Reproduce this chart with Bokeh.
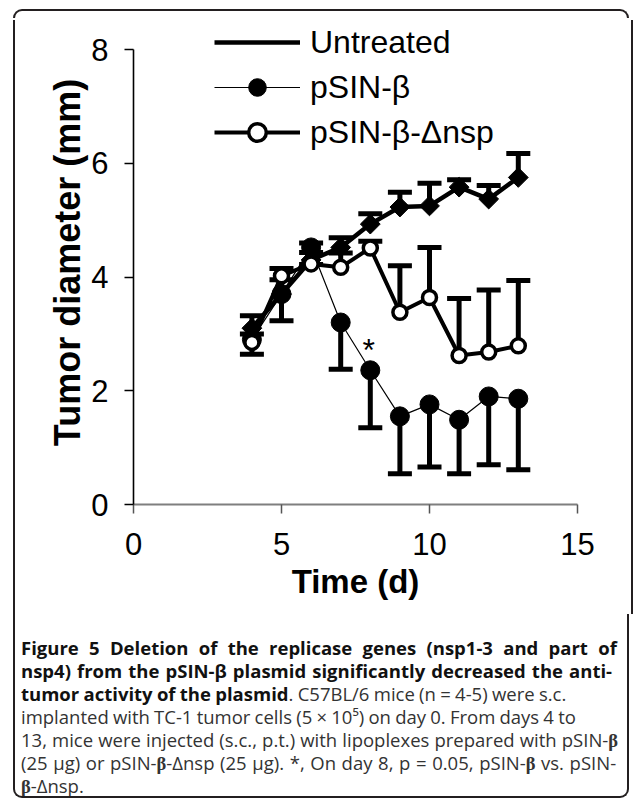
import math
from bokeh.plotting import figure
from bokeh.models import (Range1d, Whisker, TeeHead, ColumnDataSource, Legend,
                          LegendItem, FixedTicker, Div, Label)
from bokeh.layouts import column, row
from bokeh.embed import file_html
from bokeh.resources import INLINE

# ---------------- data ----------------
days = [4, 5, 6, 7, 8, 9, 10, 11, 12, 13]
untreated = [3.10, 3.70, 4.30, 4.52, 4.93, 5.23, 5.25, 5.58, 5.37, 5.75]
untreated_err = [0.22, 0.25, 0.30, 0.17, 0.18, 0.26, 0.40, 0.13, 0.24, 0.42]
psin = [2.90, 3.70, 4.52, 3.20, 2.36, 1.55, 1.76, 1.49, 1.90, 1.86]
psin_err = [0.26, 0.47, 0.30, 0.82, 1.01, 1.01, 1.10, 0.95, 1.20, 1.25]
dnsp = [2.85, 4.02, 4.23, 4.17, 4.51, 3.38, 3.64, 2.62, 2.68, 2.79]
dnsp_err = [0.15, 0.13, 0.20, 0.25, 0.12, 0.82, 0.88, 1.00, 1.09, 1.15]
x_ticks = [0, 5, 10, 15]
y_ticks = [0, 2, 4, 6, 8]
series_names = ["Untreated", "pSIN-\u03b2", "pSIN-\u03b2-\u0394nsp"]

FONT = "Liberation Sans"
BLACK = "#000000"
FRAME_COL = "#231f20"

p = figure(width=590, height=594, x_range=Range1d(0, 15), y_range=Range1d(0, 8.5099),
           output_backend="svg", toolbar_location=None,
           min_border_left=108, min_border_right=38, min_border_top=0, min_border_bottom=110)
p.outline_line_color = None
p.grid.visible = False
p.background_fill_color = "white"
p.border_fill_color = "white"

# x axis
xa = p.xaxis[0]
xa.ticker = FixedTicker(ticks=x_ticks)
xa.bounds = (0, 15)
xa.axis_line_color = "#7f7f7f"
xa.axis_line_width = 2
xa.major_tick_line_color = "#555555"
xa.major_tick_line_width = 1.5
xa.major_tick_out = 9
xa.major_tick_in = 0
xa.minor_tick_out = 0
xa.minor_tick_in = 0
xa.major_label_text_font = FONT
xa.major_label_text_font_size = "31px"
xa.major_label_text_color = BLACK
xa.major_label_standoff = 19
xa.axis_label = "Time (d)"
xa.axis_label_text_font = FONT
xa.axis_label_text_font_style = "bold"
xa.axis_label_text_font_size = "33px"
xa.axis_label_text_color = BLACK
xa.axis_label_standoff = 5

# y axis
ya = p.yaxis[0]
ya.ticker = FixedTicker(ticks=y_ticks)
ya.bounds = (0, 8)
ya.axis_line_color = BLACK
ya.axis_line_width = 1.6
ya.major_tick_line_color = BLACK
ya.major_tick_line_width = 1.5
ya.major_tick_out = 9
ya.major_tick_in = 0
ya.minor_tick_out = 0
ya.minor_tick_in = 0
ya.major_label_text_font = FONT
ya.major_label_text_font_size = "31px"
ya.major_label_text_color = BLACK
ya.major_label_standoff = 16
ya.axis_label = "Tumor diameter (mm)"
ya.axis_label_text_font = FONT
ya.axis_label_text_font_style = "bold"
ya.axis_label_text_font_size = "36px"
ya.axis_label_text_color = BLACK
ya.axis_label_standoff = 0

src = ColumnDataSource(dict(
    d=days,
    u=untreated, u_hi=[v + e for v, e in zip(untreated, untreated_err)],
    s=psin, s_lo=[v - e for v, e in zip(psin, psin_err)],
    n=dnsp, n_hi=[v + e for v, e in zip(dnsp, dnsp_err)],
))
empty = ColumnDataSource(dict(d=[], u=[]))

def tee():
    return TeeHead(size=24, line_width=5, line_color=BLACK)

# Untreated
w1 = Whisker(base="d", lower="u", upper="u_hi", source=src, upper_head=tee(), lower_head=None,
             line_width=5, line_color=BLACK, level="underlay")
p.add_layout(w1)
l1 = p.line("d", "u", source=src, line_width=4.5, line_color=BLACK)
m1 = p.scatter("d", "u", source=src, marker="square", angle=math.pi / 4, size=14,
               fill_color=BLACK, line_color=BLACK)
# legend-only diamond (legend glyphs ignore marker angle)
m1_leg = p.scatter("d", "u", source=empty, marker="diamond", size=25,
                   fill_color=BLACK, line_color=BLACK)

# pSIN-beta
w2 = Whisker(base="d", lower="s_lo", upper="s", source=src, lower_head=tee(), upper_head=None,
             line_width=5, line_color=BLACK, level="underlay")
p.add_layout(w2)
l2 = p.line("d", "s", source=src, line_width=1.2, line_color=BLACK)
m2 = p.scatter("d", "s", source=src, marker="circle", size=19, fill_color=BLACK, line_color=BLACK)

# pSIN-beta-dnsp
w3 = Whisker(base="d", lower="n", upper="n_hi", source=src, upper_head=tee(), lower_head=None,
             line_width=5, line_color=BLACK, level="underlay")
p.add_layout(w3)
l3 = p.line("d", "n", source=src, line_width=4, line_color=BLACK)
m3 = p.scatter("d", "n", source=src, marker="circle", size=14, fill_color="white",
               line_color=BLACK, line_width=3.5)

# significance marker
p.add_layout(Label(x=7.95, y=2.72, text="*", text_font=FONT, text_font_size="32px",
                   text_align="center", text_baseline="middle", text_color=BLACK))

legend = Legend(items=[LegendItem(label=series_names[0], renderers=[l1, m1_leg]),
                       LegendItem(label=series_names[1], renderers=[l2, m2]),
                       LegendItem(label=series_names[2], renderers=[l3, m3])],
                location=(81, 350), glyph_width=86, glyph_height=44, label_height=44,
                spacing=1, padding=0, margin=0, label_standoff=10,
                border_line_color=None, background_fill_alpha=0,
                label_text_font=FONT, label_text_font_size="32px", label_text_color=BLACK)
p.add_layout(legend)

# ---------------- rounded frame pieces ----------------
LINE = "2px solid " + FRAME_COL
top_div = Div(width=634, height=20, margin=0, text=(
    "<div style=\"padding:9px 0 0 13px;\"><div style=\"width:616px;height:9px;border:" + LINE + ";"
    "border-bottom:none;border-radius:9px 9px 0 0;\"></div></div>"))
left_div = Div(width=25, height=594, margin=0, text=(
    "<div style=\"display:block;width:15px;height:594px;box-sizing:border-box;"
    "border-right:" + LINE + ";\"></div>"))
right_div = Div(width=19, height=594, margin=0, text=(
    "<div style=\"padding-left:16px;\"><div style=\"width:0;height:594px;border-left:" + LINE + ";\"></div></div>"))

B = "<span style=\"font-family:'Liberation Serif';font-weight:700\">\u03b2</span>"
BOLD = "<b style=\"color:#111111\">"

def cline(html, ws=0.0):
    return ("<div style=\"height:23px;word-spacing:%.1fpx;\">" % ws) + html + "</div>"

caption = (
    "<div style=\"padding-left:13px;\"><div style=\"width:616px;height:184px;border:" + LINE + ";"
    "border-top:none;border-radius:0 0 9px 9px;overflow:hidden;\">"
    "<div style=\"font-family:'Open Sans';font-size:18.5px;line-height:23px;color:#333333;"
    "white-space:nowrap;padding-left:6px;padding-top:22px;\">"
    + cline(BOLD + "Figure 5 Deletion of the replicase genes (nsp1-3 and part of</b>", 5.5)
    + cline(BOLD + "nsp4) from the pSIN-\u03b2 plasmid significantly decreased the anti-</b>", 1.3)
    + cline(BOLD + "tumor activity of the plasmid</b>. C57BL/6 mice (n = 4-5) were s.c.", -0.5)
    + cline("implanted with TC-1 tumor cells (5 \u00d7 10\u2075) on day 0. From days 4 to", -0.6)
    + cline("13, mice were injected (s.c., p.t.) with lipoplexes prepared with pSIN-" + B, 0.3)
    + cline("(25 \u03bcg) or pSIN-" + B + "-\u0394nsp (25 \u03bcg). *, On day 8, p = 0.05, pSIN-" + B + " vs. pSIN-", 0.8)
    + cline(B + "-\u0394nsp.")
    + "</div></div></div>"
)
cap_div = Div(text=caption, width=634, height=191, margin=0)

layout = column(top_div, row(left_div, p, right_div), cap_div)

open("out.html", "w").write(file_html(layout, INLINE))
